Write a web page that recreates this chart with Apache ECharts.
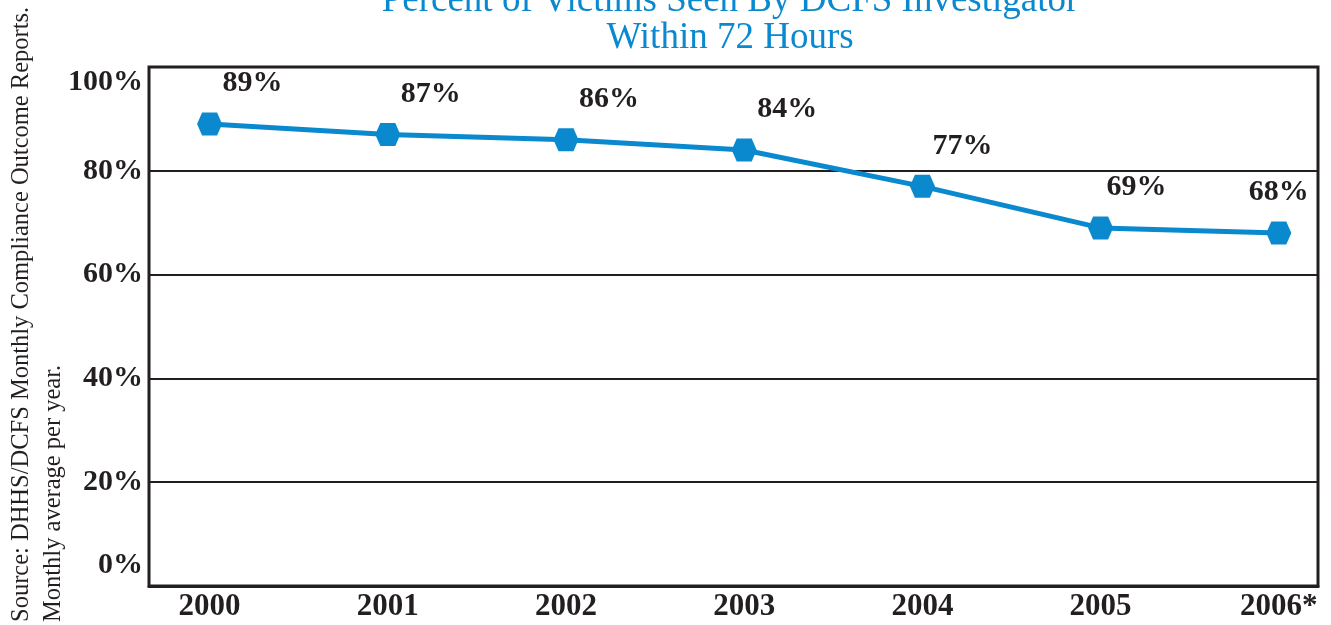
<!DOCTYPE html>
<html>
<head>
<meta charset="utf-8">
<script src="https://cdn.jsdelivr.net/npm/echarts@6/dist/echarts.min.js"></script>
<style>
  html, body { margin: 0; padding: 0; background: #ffffff; }
  #chart { width: 1331px; height: 625px; }
</style>
</head>
<body>
<div id="chart"></div>
<script>
// ---- data ----
const years = [2000, 2001, 2002, 2003, 2004, 2005, 2006];
const yearLabels = ['2000', '2001', '2002', '2003', '2004', '2005', '2006*'];
const pctValues = [89, 87, 86, 84, 77, 69, 68];
const yTicks = [0, 20, 40, 60, 80, 100];
const titleLines = ['Percent of Victims Seen By DCFS Investigator', 'Within 72 Hours'];
const sourceLines = ['Source: DHHS/DCFS Monthly Compliance Outcome Reports.', 'Monthly average per year.'];

// ---- styles ----
const labelShift = [[43, -9], [43, -9], [43, -9], [43, -9], [40, -9], [36, -9], [0, -9]];
const INK = '#231f20';
const BLUE = '#0a89cf';
const SERIF = '"Liberation Serif", "DejaVu Serif", serif';
const hexagon = 'path://M0,11.5 L5,0 L20,0 L25,11.5 L20,23 L5,23 Z';

const chart = echarts.init(document.getElementById('chart'), null, { renderer: 'canvas' });

const seriesData = years.map((y, i) => ({
  value: [y, pctValues[i]],
  label: { offset: labelShift[i] }
}));

chart.setOption({
  animation: false,
  backgroundColor: '#ffffff',
  title: {
    text: titleLines.join('\n'),
    left: 730,
    textAlign: 'center',
    top: -17,
    padding: 0,
    textStyle: {
      fontFamily: SERIF,
      fontSize: 37,
      fontWeight: 'normal',
      color: BLUE,
      lineHeight: 37
    }
  },
  grid: {
    left: 149,
    right: 13,
    top: 67,
    bottom: 39,
    show: true,
    borderColor: INK,
    borderWidth: 3,
    backgroundColor: 'transparent'
  },
  xAxis: {
    type: 'value',
    min: 1999.66,
    max: 2006.22,
    splitLine: { show: false },
    axisTick: { show: false },
    axisLine: { show: true, lineStyle: { color: INK, width: 3 } },
    axisLabel: {
      customValues: years,
      formatter: function (v) {
        const i = years.indexOf(Math.round(v));
        return i >= 0 ? yearLabels[i] : '';
      },
      margin: 5,
      fontFamily: SERIF,
      fontWeight: 'bold',
      fontSize: 31,
      color: INK
    }
  },
  yAxis: {
    type: 'value',
    min: yTicks[0],
    max: yTicks[yTicks.length - 1],
    interval: yTicks[1] - yTicks[0],
    axisLine: { show: false },
    axisTick: { show: false },
    splitLine: { show: true, lineStyle: { color: INK, width: 2 } },
    axisLabel: {
      formatter: '{value}%',
      margin: 6,
      fontFamily: SERIF,
      fontWeight: 'bold',
      fontSize: 30,
      color: INK,
      verticalAlign: 'middle',
      verticalAlignMinLabel: 'bottom',
      verticalAlignMaxLabel: 'top',
      padding: [0, 0, 6, 0]
    }
  },
  series: [{
    type: 'line',
    data: seriesData,
    symbol: hexagon,
    symbolSize: [25, 23],
    lineStyle: { color: BLUE, width: 5 },
    itemStyle: { color: BLUE, borderWidth: 0 },
    z: 5,
    label: {
      show: true,
      position: 'top',
      formatter: function (p) { return p.value[1] + '%'; },
      fontFamily: SERIF,
      fontWeight: 'bold',
      fontSize: 30,
      color: INK
    }
  }],
  graphic: [
    {
      type: 'text',
      x: 22,
      y: 622,
      rotation: Math.PI / 2,
      style: {
        text: sourceLines[0],
        fontFamily: SERIF,
        fontSize: 24.5,
        fill: INK,
        align: 'left',
        verticalAlign: 'middle'
      }
    },
    {
      type: 'text',
      x: 54,
      y: 622,
      rotation: Math.PI / 2,
      style: {
        text: sourceLines[1],
        fontFamily: SERIF,
        fontSize: 24.5,
        fill: INK,
        align: 'left',
        verticalAlign: 'middle'
      }
    }
  ]
});
</script>
</body>
</html>
